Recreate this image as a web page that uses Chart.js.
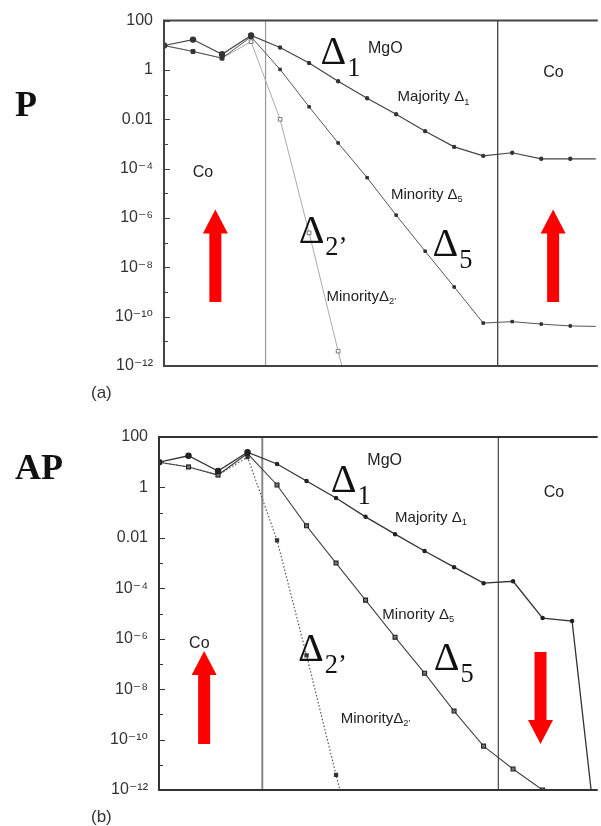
<!DOCTYPE html>
<html>
<head>
<meta charset="utf-8">
<script src="https://cdn.jsdelivr.net/npm/chart.js@4.4.1/dist/chart.umd.min.js"></script>
<style>
html, body { margin: 0; padding: 0; background: #fff; width: 601px; height: 826px; overflow: hidden; }
canvas { position: absolute; left: 0; }
#graphP { top: 0; }
#graphAP { top: 410px; }
.tag { position: absolute; left: 15px; font-family: "Liberation Serif", "Times New Roman", serif; font-weight: bold; font-size: 36px; line-height: 36px; color: #111; }
.part { position: absolute; left: 91px; font-family: "Liberation Sans", Arial, sans-serif; font-size: 17px; line-height: 17px; color: #333; }
</style>
</head>
<body>
<canvas id="graphP" width="601" height="410"></canvas>
<canvas id="graphAP" width="601" height="416"></canvas>
<div class="tag" style="top:86px">P</div>
<div class="tag" style="top:449px">AP</div>
<div class="part" style="top:384px">(a)</div>
<div class="part" style="top:808px">(b)</div>
<script>
// monolayer index across Co | MgO | Co
const layers = [0, 1, 2, 3, 4, 5, 6, 7, 8, 9, 10, 11, 12, 13, 14, 15];
const boundaries = [3.5, 11.5];
const tickValues = [100, 1, 0.01, 1e-4, 1e-6, 1e-8, 1e-10, 1e-12];
const tickLabels = ['100', '1', '0.01', '10⁻⁴', '10⁻⁶', '10⁻⁸', '10⁻¹⁰', '10⁻¹²'];

// (a) parallel
const pMajority1 = [9.8, 17, 4.3, 25, 8.1, 1.9, 0.35, 0.071, 0.016, 0.0033, 7.6e-4, 3.3e-4, 4.4e-4, 2.5e-4, 2.5e-4, 2.5e-4];
const pMinority5 = [9.8, 5.6, 3.0, 22, 1.05, 0.032, 1.1e-3, 4.3e-5, 1.3e-6, 4.5e-8, 1.6e-9, 5.5e-11, 6.3e-11, 5e-11, 4.2e-11, 4e-11];
const pMinority2 = [9.8, 5.6, 3.0, 14, 0.01, 2.5e-7, 4e-12, 1e-16];

// (b) antiparallel
const apMajority1 = [10, 18, 4.5, 25, 8.5, 1.8, 0.38, 0.068, 0.014, 0.003, 6.9e-4, 1.6e-4, 1.9e-4, 6.6e-6, 5e-6, 2e-16];
const apMinority5 = [10, 6.5, 3.1, 22, 1.25, 0.03, 1e-3, 3.4e-5, 1.15e-6, 4.3e-8, 1.35e-9, 5.5e-11, 6.8e-12, 1e-12, 1.6e-13, 2.5e-14];
const apMinority2 = [10, 6.5, 3.1, 16, 8e-3, 2.2e-7, 4e-12, 1e-16];

const SANS = '"Liberation Sans", Arial, "DejaVu Sans", sans-serif';
const SERIF = '"Liberation Serif", "Times New Roman", serif';

// labels placed in data units: x = layer, y = log10 of value
const pNotes = [
    {x: 7.03, y: 0.67, text: 'MgO', size: 16},
    {x: 5.39, y: 0.23, text: 'Δ', sub: '1', size: 40, serif: true},
    {x: 8.05, y: -1.27, text: 'Majority Δ', sub: '1', size: 15},
    {x: 13.07, y: -0.30, text: 'Co', size: 16},
    {x: 0.99, y: -4.33, text: 'Co', size: 16},
    {x: 7.82, y: -5.22, text: 'Minority Δ', sub: '5', size: 15},
    {x: 4.64, y: -7.03, text: 'Δ', sub: '2’', size: 40, serif: true},
    {x: 9.25, y: -7.56, text: 'Δ', sub: '5', size: 40, serif: true},
    {x: 5.6, y: -9.37, text: 'MinorityΔ', sub: '2’', size: 15}
];
const apNotes = [
    {x: 7.06, y: 0.89, text: 'MgO', size: 16},
    {x: 5.82, y: -0.18, text: 'Δ', sub: '1', size: 40, serif: true},
    {x: 8.0, y: -1.37, text: 'Majority Δ', sub: '1', size: 15},
    {x: 13.04, y: -0.38, text: 'Co', size: 16},
    {x: 1.02, y: -6.37, text: 'Co', size: 16},
    {x: 7.57, y: -5.22, text: 'Minority Δ', sub: '5', size: 15},
    {x: 4.71, y: -6.89, text: 'Δ', sub: '2’', size: 40, serif: true},
    {x: 9.31, y: -7.25, text: 'Δ', sub: '5', size: 40, serif: true},
    {x: 6.16, y: -9.35, text: 'MinorityΔ', sub: '2’', size: 15}
];
// magnetisation arrows: from tail to tip, in log10 units
const pArrows = [
    {x: 1.77, from: -9.41, to: -5.66},
    {x: 13.41, from: -9.41, to: -5.66}
];
const apArrows = [
    {x: 1.53, from: -10.18, to: -6.49},
    {x: 12.93, from: -6.53, to: -10.18}
];

function series(values, style) {
    return Object.assign({
        data: values.map((v, i) => ({x: layers[i], y: v})),
        tension: 0,
        fill: false
    }, style);
}

// markers are drawn larger in the left Co lead than inside the barrier
function markerSize(small, big) {
    return ctx => (ctx.raw && ctx.raw.x < boundaries[0] ? big : small);
}

function boundaryLines(colors, widths) {
    return boundaries.map((b, i) => ({
        data: [{x: b, y: 1e-12}, {x: b, y: 100}],
        borderColor: colors[i],
        borderWidth: widths[i],
        pointRadius: 0,
        tension: 0
    }));
}

function drawArrow(ctx, px, y0, y1) {
    const dir = Math.sign(y1 - y0);
    const yb = y1 - dir * 24;
    ctx.beginPath();
    ctx.moveTo(px - 6, y0);
    ctx.lineTo(px + 6, y0);
    ctx.lineTo(px + 6, yb);
    ctx.lineTo(px + 12.5, yb);
    ctx.lineTo(px, y1);
    ctx.lineTo(px - 12.5, yb);
    ctx.lineTo(px - 6, yb);
    ctx.closePath();
    ctx.fill();
}

const framePlugin = {
    id: 'frame',
    afterDraw(chart, args, opts) {
        const {ctx, chartArea: a, scales: {x, y}} = chart;
        ctx.save();
        // frame
        ctx.strokeStyle = opts.color;
        ctx.lineWidth = 2;
        ctx.beginPath();
        ctx.moveTo(a.right + 2, a.top);
        ctx.lineTo(a.left, a.top);
        ctx.lineTo(a.left, a.bottom);
        ctx.lineTo(a.right + 2, a.bottom);
        ctx.stroke();
        // inward decade ticks
        ctx.lineWidth = 1;
        for (let e = -12; e <= 2; e++) {
            const py = Math.round(y.getPixelForValue(Math.pow(10, e))) + 0.5;
            const len = e % 2 === 0 ? 6 : 4;
            ctx.beginPath();
            ctx.moveTo(a.left, py);
            ctx.lineTo(a.left + len, py);
            ctx.stroke();
        }
        // arrows
        ctx.fillStyle = '#fe0000';
        opts.arrows.forEach(ar => {
            drawArrow(ctx, x.getPixelForValue(ar.x),
                y.getPixelForValue(Math.pow(10, ar.from)),
                y.getPixelForValue(Math.pow(10, ar.to)));
        });
        // notes
        ctx.textBaseline = 'alphabetic';
        ctx.textAlign = 'left';
        opts.notes.forEach(n => {
            const fam = n.serif ? SERIF : SANS;
            const px = x.getPixelForValue(n.x);
            const py = y.getPixelForValue(Math.pow(10, n.y));
            ctx.fillStyle = n.serif ? '#111' : '#222';
            ctx.font = n.size + 'px ' + fam;
            ctx.fillText(n.text, px, py);
            if (n.sub) {
                const w = ctx.measureText(n.text).width;
                const s = n.serif ? n.size * 0.66 : n.size * 0.62;
                ctx.font = s + 'px ' + fam;
                ctx.fillText(n.sub, px + w + (n.serif ? 1 : 0), py + n.size * (n.serif ? 0.3 : 0.22));
            }
        });
        ctx.restore();
    }
};

function makePanel(canvasId, cfg) {
    return new Chart(document.getElementById(canvasId), {
        type: 'line',
        data: {datasets: cfg.datasets},
        plugins: [framePlugin],
        options: {
            responsive: false,
            animation: false,
            events: [],
            layout: {padding: cfg.padding},
            plugins: {
                legend: {display: false},
                tooltip: {enabled: false},
                frame: {color: cfg.frameColor, notes: cfg.notes, arrows: cfg.arrows}
            },
            scales: {
                x: {type: 'linear', min: 0, max: cfg.xMax, display: false},
                y: {
                    type: 'logarithmic',
                    min: 1e-12,
                    max: 100,
                    afterBuildTicks: scale => {
                        scale.ticks = tickValues.map(v => ({value: v}));
                    },
                    afterFit: scale => {
                        scale.width = cfg.axisWidth;
                    },
                    grid: {display: false, drawTicks: false},
                    border: {display: false},
                    ticks: {
                        autoSkip: false,
                        padding: 11,
                        color: '#333',
                        font: {family: SANS, size: 16},
                        callback: (v, i) => tickLabels[i]
                    }
                }
            }
        }
    });
}

makePanel('graphP', {
    padding: {top: 19, bottom: 44, left: 0, right: 1},
    axisWidth: 164,
    xMax: 14.88,
    frameColor: '#444',
    notes: pNotes,
    arrows: pArrows,
    datasets: [
        series(pMajority1, {borderColor: '#444', borderWidth: 1.2, pointStyle: 'circle', pointRadius: markerSize(1.6, 2.6),
            pointBackgroundColor: '#333', pointBorderColor: '#333'}),
        series(pMinority5, {borderColor: '#555', borderWidth: 1, pointStyle: 'rect', pointRadius: markerSize(1.8, 2.6),
            pointBackgroundColor: '#333', pointBorderColor: '#333'}),
        series(pMinority2, {borderColor: '#aaa', borderWidth: 1, pointStyle: 'rect', pointRadius: 2.6,
            pointBackgroundColor: '#fff', pointBorderColor: '#777'}),
        ...boundaryLines(['#999', '#333'], [1.2, 1.2])
    ]
});

makePanel('graphAP', {
    padding: {top: 27, bottom: 36, left: 0, right: 1},
    axisWidth: 159,
    xMax: 14.8,
    frameColor: '#333',
    notes: apNotes,
    arrows: apArrows,
    datasets: [
        series(apMajority1, {borderColor: '#333', borderWidth: 1.3, pointStyle: 'circle', pointRadius: markerSize(1.6, 2.6),
            pointBackgroundColor: '#222', pointBorderColor: '#222'}),
        series(apMinority5, {borderColor: '#444', borderWidth: 1.1, pointStyle: 'rect', pointRadius: 2.8,
            pointBackgroundColor: '#777', pointBorderColor: '#222'}),
        series(apMinority2, {borderColor: '#555', borderWidth: 1.2, borderDash: [1.5, 2], pointStyle: 'rect',
            pointRadius: 2.2, pointBackgroundColor: '#333', pointBorderColor: '#333'}),
        ...boundaryLines(['#888', '#444'], [2, 1.2])
    ]
});
</script>
</body>
</html>
